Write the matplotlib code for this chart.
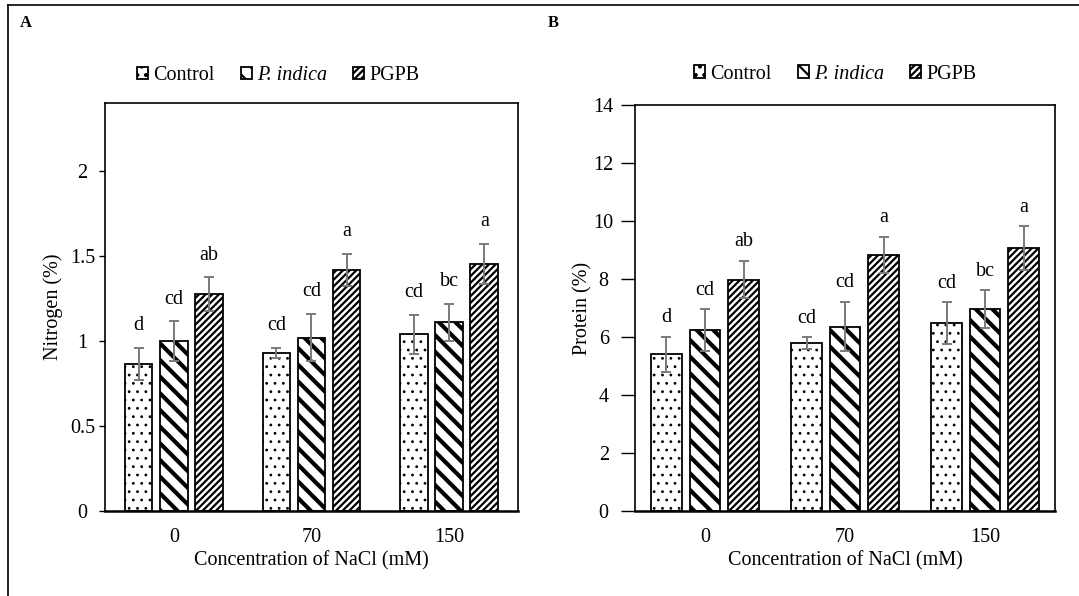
import numpy as np
import matplotlib
matplotlib.use("Agg")
import matplotlib.pyplot as plt
from matplotlib.patches import Patch
from matplotlib.lines import Line2D

plt.rcParams["font.family"] = ["Liberation Serif", "DejaVu Serif"]

# --- data ---
nacl = ["0", "70", "150"]
treatments = ["Control", "P. indica", "PGPB"]

nitrogen = {
    "Control": [0.865, 0.93, 1.04],
    "P. indica": [1.00, 1.02, 1.11],
    "PGPB": [1.276, 1.418, 1.453],
}
nitrogen_err = {
    "Control": [0.095, 0.03, 0.115],
    "P. indica": [0.115, 0.14, 0.11],
    "PGPB": [0.10, 0.095, 0.12],
}
nitrogen_letters = {
    "Control": ["d", "cd", "cd"],
    "P. indica": ["cd", "cd", "bc"],
    "PGPB": ["ab", "a", "a"],
}

protein = {
    "Control": [5.41, 5.80, 6.48],
    "P. indica": [6.25, 6.37, 6.97],
    "PGPB": [7.99, 8.83, 9.07],
}
protein_err = {
    "Control": [0.60, 0.20, 0.72],
    "P. indica": [0.71, 0.85, 0.65],
    "PGPB": [0.63, 0.62, 0.75],
}
protein_letters = nitrogen_letters

# --- styles ---
hatches = {"Control": "..", "P. indica": "\\\\", "PGPB": "/////"}
hatch_lw = {"Control": 0.8, "P. indica": 3.0, "PGPB": 1.6}
err_color = "#7a7a7a"
FS = 14.5


def draw_panel(ax, vals, errs, letters, ylim, yticks, ylabel, width, step,
               lab_off, ylabelpad, tick_len, tick_pad, leg_xy):
    x = np.arange(len(nacl))
    for i, t in enumerate(treatments):
        plt.rcParams["hatch.linewidth"] = hatch_lw[t]
        pos = x + (i - 1) * step
        ax.bar(pos, vals[t], width, color="white", edgecolor="black",
               linewidth=1.3, hatch=hatches[t], zorder=2)
        ax.errorbar(pos, vals[t], yerr=errs[t], fmt="none", ecolor=err_color,
                    elinewidth=1.4, capsize=3.5, capthick=1.4, zorder=3)
        for p, v, e, s in zip(pos, vals[t], errs[t], letters[t]):
            ax.annotate(s, (p, v + e), xytext=(0, lab_off), textcoords="offset points",
                        ha="center", va="bottom", fontsize=FS)
    ax.set_xlim(-0.5, len(nacl) - 0.5)
    ax.set_ylim(*ylim)
    ax.set_yticks(yticks)
    ax.set_yticklabels([f"{v:g}" for v in yticks], ha="center")
    ax.set_xticks(x)
    ax.set_xticklabels(nacl)
    ax.tick_params(axis="x", length=0, labelsize=FS, pad=12)
    ax.tick_params(axis="y", length=tick_len, width=1, direction="out",
                   labelsize=FS, pad=tick_pad)
    for sp in ax.spines.values():
        sp.set_linewidth(1.2)
    ax.spines["bottom"].set_linewidth(1.8)
    ax.set_ylabel(ylabel, fontsize=FS, labelpad=ylabelpad)
    ax.set_xlabel("Concentration of NaCl (mM)", fontsize=FS, labelpad=3)
    handles = []
    for t in treatments:
        plt.rcParams["hatch.linewidth"] = hatch_lw[t]
        handles.append(Patch(facecolor="white", edgecolor="black", linewidth=1.3,
                             hatch=hatches[t]))
    leg = ax.legend(handles, treatments, loc="center", bbox_to_anchor=leg_xy,
                    ncol=3, frameon=False, fontsize=FS, handlelength=0.55,
                    handleheight=0.55, handletextpad=0.25, columnspacing=1.3,
                    borderaxespad=0)
    leg.get_texts()[1].set_fontstyle("italic")


fig = plt.figure(figsize=(10.79, 5.96), dpi=100)
axA = fig.add_axes([0.0973, 0.1426, 0.3827, 0.6846])
axB = fig.add_axes([0.5885, 0.1418, 0.3893, 0.6820])

draw_panel(axA, nitrogen, nitrogen_err, nitrogen_letters, (0, 2.4),
           [0, 0.5, 1, 1.5, 2], "Nitrogen (%)", 0.2, 0.255, 9, 5,
           4.3, 12, (0.42, 1.067))
draw_panel(axB, protein, protein_err, protein_letters, (0, 14),
           [0, 2, 4, 6, 8, 10, 12, 14], "Protein (%)", 0.22, 0.275, 7, 1,
           10, 12.5, (0.477, 1.076))

fig.text(20 / 1079, 1 - 23 / 596, "A", fontsize=12, fontweight="bold", va="center")
fig.text(548 / 1079, 1 - 23 / 596, "B", fontsize=12, fontweight="bold", va="center")

# outer frame of the composite figure
fig.add_artist(Line2D([8 / 1079, 1], [1 - 5 / 596, 1 - 5 / 596], color="black", lw=1.2))
fig.add_artist(Line2D([8 / 1079, 8 / 1079], [0, 1 - 5 / 596], color="black", lw=1.2))

fig.savefig("out.png", dpi=100)
